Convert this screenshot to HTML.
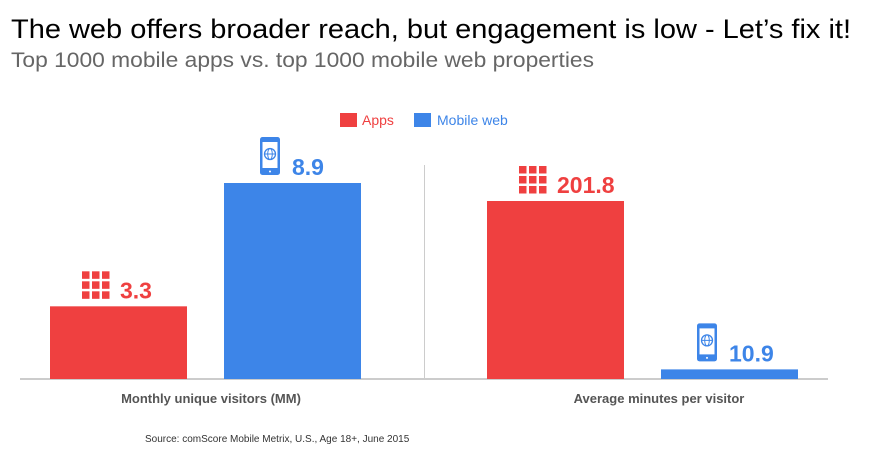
<!DOCTYPE html>
<html><head><meta charset="utf-8"><style>
body{margin:0;background:#fff;width:871px;height:458px;overflow:hidden;font-family:"Liberation Sans",sans-serif}
</style></head><body>
<svg width="871" height="458">
<text x="11" y="38" font-size="26.5" fill="#000" textLength="840" lengthAdjust="spacingAndGlyphs">The web offers broader reach, but engagement is low - Let’s fix it!</text>
<text x="11" y="67" font-size="21" fill="#666" textLength="583" lengthAdjust="spacingAndGlyphs">Top 1000 mobile apps vs. top 1000 mobile web properties</text>
<g>
<rect x="340" y="113" width="17" height="14" fill="#ef4040"/>
<text x="362" y="125" font-size="14" fill="#ef4040">Apps</text>
<rect x="414" y="113" width="17" height="14" fill="#3d85e8"/>
<text x="437" y="125" font-size="14" fill="#3d85e8">Mobile web</text>
</g>
<line x1="20" y1="379" x2="828" y2="379" stroke="#bbb" stroke-width="1.5"/>
<line x1="424.5" y1="165" x2="424.5" y2="379" stroke="#ccc" stroke-width="1"/>
<g id="marks"></g>
<text x="211" y="403" font-size="13" font-weight="bold" fill="#555" text-anchor="middle">Monthly unique visitors (MM)</text>
<text x="659" y="403" font-size="13" font-weight="bold" fill="#555" text-anchor="middle">Average minutes per visitor</text>
<text x="145" y="442" font-size="10" fill="#333">Source: comScore Mobile Metrix, U.S., Age 18+, June 2015</text>
</svg>
<script>
const categories=["Monthly unique visitors (MM)","Average minutes per visitor"];
const appsValues=[3.3,201.8];
const webValues=[8.9,10.9];
const labelsApps=["3.3","201.8"];
const labelsWeb=["8.9","10.9"];
const baseY=379, maxH=[196/8.9,178/201.8];
const panelX=[50,487], barW=137, gap=37;
const NS="http://www.w3.org/2000/svg";
const g=document.getElementById('marks');
function mk(t,a){const e=document.createElementNS(NS,t);for(const k in a)e.setAttribute(k,a[k]);g.appendChild(e);return e;}
function gridIcon(x,y){for(let r=0;r<3;r++)for(let c=0;c<3;c++){const e=mk('rect',{x:x+c*10,y:y+r*10,width:7.5,height:7.5,fill:'#ef4040'});

}}
function phoneIcon(x,y){const p=mk('rect',{x:x,y:y,width:20,height:38,rx:2.5,fill:'#3d85e8'});


mk('rect',{x:x+2.5,y:y+5,width:15,height:26,fill:'#fff'});
mk('circle',{cx:x+10,cy:y+17,r:5.5,fill:'none',stroke:'#3d85e8','stroke-width':1.3});
mk('line',{x1:x+4.5,y1:y+17,x2:x+15.5,y2:y+17,stroke:'#3d85e8','stroke-width':1});
mk('ellipse',{cx:x+10,cy:y+17,rx:2.3,ry:5.5,fill:'none',stroke:'#3d85e8','stroke-width':1});
mk('circle',{cx:x+10,cy:y+34.5,r:1,fill:'#fff'});}
categories.forEach((c,i)=>{
 const s=maxH[i];
 const ha=appsValues[i]*s, hw=webValues[i]*s;
 const xa=panelX[i], xw=panelX[i]+barW+gap;
 const ba=mk('rect',{x:xa,y:baseY-ha,width:barW,height:ha,fill:'#ef4040'});
 
 
 const bw=mk('rect',{x:xw,y:baseY-hw,width:barW,height:Math.max(hw,1),fill:'#3d85e8'});
 
 
 gridIcon(xa+32,baseY-ha-35);
 const ta=mk('text',{x:xa+70,y:baseY-ha-8,'font-size':23,'font-weight':'bold',fill:'#ef4040'});
 ta.textContent=labelsApps[i];
 
 
 phoneIcon(xw+36,baseY-hw-46);
 const tw=mk('text',{x:xw+68,y:baseY-hw-8,'font-size':23,'font-weight':'bold',fill:'#3d85e8'});
 tw.textContent=labelsWeb[i];
 
 
});
</script>
</body></html>
